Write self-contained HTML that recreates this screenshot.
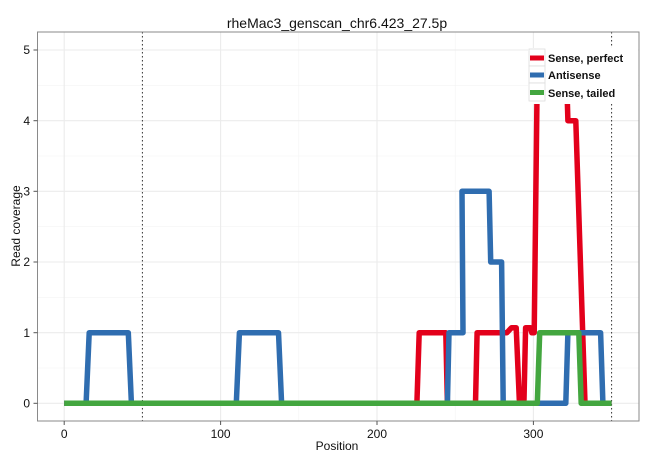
<!DOCTYPE html>
<html><head><meta charset="utf-8"><style>body{margin:0;background:#fff}svg{display:block;font-family:"Liberation Sans",sans-serif}</style></head><body>
<svg width="650" height="460" viewBox="0 0 650 460">
<defs><clipPath id="c"><rect x="37.5" y="32" width="601.5" height="389"/></clipPath></defs>
<rect x="37.5" y="32" width="601.5" height="389" fill="#fff"/>
<g stroke="#f3f3f3" stroke-width="0.6">
<line x1="37.5" x2="639" y1="368" y2="368"/><line x1="37.5" x2="639" y1="297.3" y2="297.3"/><line x1="37.5" x2="639" y1="226.7" y2="226.7"/><line x1="37.5" x2="639" y1="156" y2="156"/><line x1="37.5" x2="639" y1="85.3" y2="85.3"/>
<line x1="142.4" x2="142.4" y1="32" y2="421"/><line x1="298.8" x2="298.8" y1="32" y2="421"/><line x1="455.2" x2="455.2" y1="32" y2="421"/><line x1="611.6" x2="611.6" y1="32" y2="421"/>
</g>
<g stroke="#ebebeb" stroke-width="1.1">
<line x1="37.5" x2="639" y1="403.3" y2="403.3"/><line x1="37.5" x2="639" y1="332.7" y2="332.7"/><line x1="37.5" x2="639" y1="262" y2="262"/><line x1="37.5" x2="639" y1="191.3" y2="191.3"/><line x1="37.5" x2="639" y1="120.7" y2="120.7"/><line x1="37.5" x2="639" y1="50" y2="50"/>
<line x1="64.2" x2="64.2" y1="32" y2="421"/><line x1="220.6" x2="220.6" y1="32" y2="421"/><line x1="377" x2="377" y1="32" y2="421"/><line x1="533.4" x2="533.4" y1="32" y2="421"/>
</g>
<g stroke="#333" stroke-width="1" stroke-dasharray="1.5,2.5"><line x1="142.4" x2="142.4" y1="32" y2="421"/><line x1="611.6" x2="611.6" y1="32" y2="421"/></g>
<g clip-path="url(#c)" fill="none" stroke-width="5.5" stroke-linejoin="round">
<polyline stroke="#e3001b" points="64.2,403.3 416.9,403.3 419.2,332.7 445.8,332.7 447.4,403.3 475.5,403.3 477.1,332.7 506.8,332.7 511.5,327.7 516.2,327.7 519.3,399.8 524,399.8 525.6,327.7 530.3,327.7 531.8,332.7 534.2,332.7 537.3,70 566.4,70 567.9,120.7 575.8,120.7 578.1,191.3 585,403.3 611.6,403.3"/>
<polyline stroke="#2f6db0" points="64.2,403.3 86.1,403.3 89.2,332.7 128.3,332.7 131.4,403.3 236.3,403.3 239.4,332.7 278.5,332.7 281.6,403.3 447.4,403.3 449,332.7 463,332.7 462,191.3 489.1,191.3 490.7,262 501.6,262 503.2,403.3 565.8,403.3 567.9,332.7 600.6,332.7 602.9,403.3 611.6,403.3"/>
<polyline stroke="#43a63f" points="64.2,403.3 537.3,403.3 539.7,332.7 578.8,332.7 581.2,403.3 611.6,403.3"/>
</g>
<rect x="37.5" y="32" width="601.5" height="389" fill="none" stroke="#8a8a8a" stroke-width="1"/>
<g stroke="#555" stroke-width="1">
<line x1="33.5" x2="37.5" y1="403.3" y2="403.3"/><line x1="33.5" x2="37.5" y1="332.7" y2="332.7"/><line x1="33.5" x2="37.5" y1="262" y2="262"/><line x1="33.5" x2="37.5" y1="191.3" y2="191.3"/><line x1="33.5" x2="37.5" y1="120.7" y2="120.7"/><line x1="33.5" x2="37.5" y1="50" y2="50"/>
<line x1="64.2" x2="64.2" y1="421" y2="425"/><line x1="220.6" x2="220.6" y1="421" y2="425"/><line x1="377" x2="377" y1="421" y2="425"/><line x1="533.4" x2="533.4" y1="421" y2="425"/>
</g>
<g font-size="12" fill="#111" text-anchor="end">
<text x="30" y="407.5">0</text><text x="30" y="337">1</text><text x="30" y="266">2</text><text x="30" y="195.5">3</text><text x="30" y="125">4</text><text x="30" y="54">5</text>
</g>
<g font-size="12" fill="#111" text-anchor="middle">
<text x="64.2" y="438">0</text><text x="220.6" y="438">100</text><text x="377" y="438">200</text><text x="533.4" y="438">300</text>
<text x="337" y="450">Position</text>
<text x="337" y="28" font-size="14">rheMac3_genscan_chr6.423_27.5p</text>
<text transform="translate(20,226) rotate(-90)">Read coverage</text>
</g>
<rect x="528" y="48" width="110" height="56" fill="#fff"/>
<g stroke="#ddd" fill="#fff" stroke-width="0.8"><rect x="529" y="49" width="16" height="17"/><rect x="529" y="66" width="16" height="17"/><rect x="529" y="83" width="16" height="18"/></g>
<rect x="530" y="55.5" width="14" height="5" fill="#e3001b"/>
<rect x="530" y="72.5" width="14" height="5" fill="#2f6db0"/>
<rect x="530" y="90" width="14" height="5" fill="#43a63f"/>
<g font-size="11" font-weight="bold" fill="#111"><text x="548" y="62">Sense, perfect</text><text x="548" y="79">Antisense</text><text x="548" y="97">Sense, tailed</text></g>
</svg>
</body></html>
